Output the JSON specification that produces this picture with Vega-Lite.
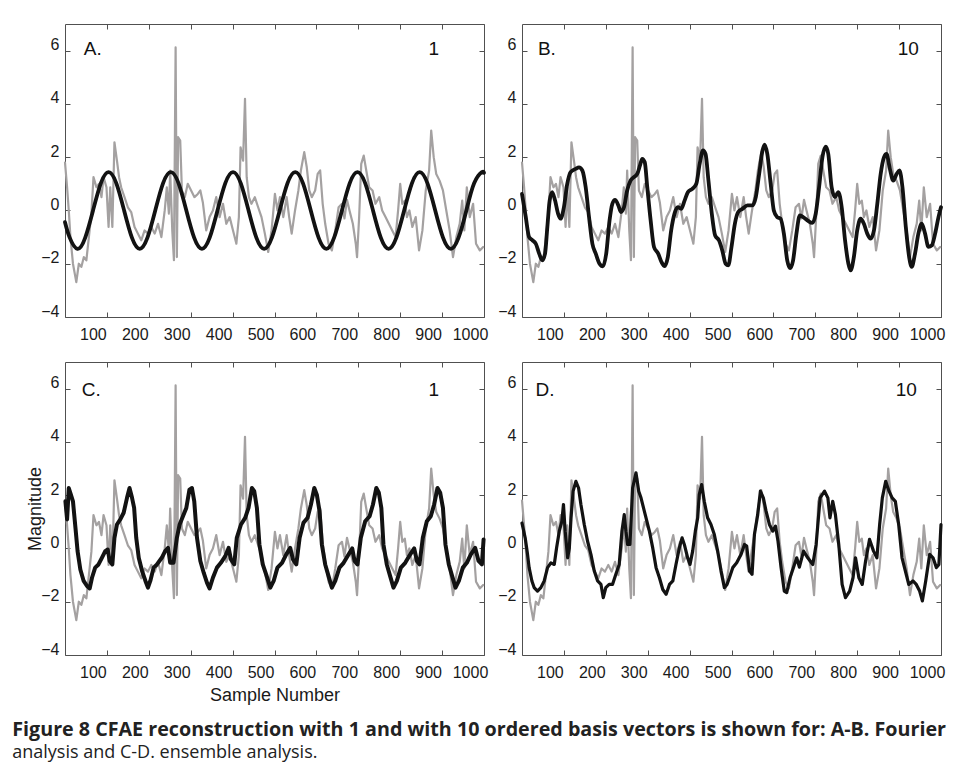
{
  "$schema": "https://vega.github.io/schema/vega-lite/v6.json",
  "background": "white",
  "padding": {"left": 12, "top": 23, "right": 5, "bottom": 5},
  "bounds": "flush",
  "columns": 2,
  "spacing": {"row": 45, "column": 38},
  "title": {
    "text": "Figure 8 CFAE reconstruction with 1 and with 10 ordered basis vectors is shown for: A-B. Fourier",
    "subtitle": "analysis and C-D. ensemble analysis.",
    "orient": "bottom",
    "anchor": "start",
    "font": "Open Sans",
    "fontSize": 19.7,
    "fontWeight": "bold",
    "color": "#222222",
    "subtitleFont": "Open Sans",
    "subtitleFontSize": 18,
    "subtitleColor": "#222222",
    "subtitlePadding": 5,
    "offset": 15,
    "dx": -14
  },
  "datasets": {
    "orig": [
      {"s":0,"v":1.8},{"s":5,"v":0.87},{"s":9,"v":0},{"s":13,"v":-1.0},{"s":19,"v":-2.0},{"s":27,"v":-2.69},{"s":33,"v":-2.0},{"s":39,"v":-2.12},{"s":45,"v":-1.75},{"s":51,"v":-1.87},{"s":57,"v":-1.0},{"s":63,"v":-0.12},{"s":68,"v":1.25},{"s":75,"v":0.87},{"s":81,"v":1.0},{"s":87,"v":0.5},{"s":92,"v":1.25},{"s":99,"v":0.87},{"s":104,"v":-0.62},{"s":108,"v":0.87},{"s":113,"v":-0.62},{"s":118,"v":2.56},{"s":124,"v":1.87},{"s":129,"v":1.25},{"s":134,"v":0.87},{"s":142,"v":0.5},{"s":150,"v":0.12},{"s":158,"v":-0.06},{"s":166,"v":-0.62},{"s":174,"v":-0.87},{"s":182,"v":-1.12},{"s":190,"v":-0.75},{"s":198,"v":-0.87},{"s":206,"v":-0.62},{"s":214,"v":-0.87},{"s":222,"v":-0.5},{"s":230,"v":-1.0},{"s":238,"v":0},{"s":243,"v":0.87},{"s":248,"v":-0.12},{"s":251,"v":1.5},{"s":256,"v":-0.75},{"s":260,"v":-1.87},{"s":264,"v":6.12},{"s":267,"v":-1.75},{"s":270,"v":2.75},{"s":275,"v":2.62},{"s":279,"v":0.75},{"s":286,"v":0.5},{"s":293,"v":1.0},{"s":301,"v":0.75},{"s":309,"v":0.5},{"s":317,"v":0.62},{"s":323,"v":0.75},{"s":329,"v":0.3},{"s":337,"v":-0.75},{"s":345,"v":-0.25},{"s":353,"v":0},{"s":361,"v":0.5},{"s":369,"v":-0.25},{"s":377,"v":0.25},{"s":385,"v":-0.5},{"s":393,"v":-0.25},{"s":401,"v":-0.75},{"s":409,"v":-1.25},{"s":415,"v":-0.25},{"s":419,"v":2.37},{"s":425,"v":1.87},{"s":429.6,"v":4.19},{"s":433.6,"v":1.25},{"s":439,"v":0.5},{"s":445,"v":0.25},{"s":453,"v":0.5},{"s":461,"v":0.12},{"s":469,"v":-0.25},{"s":477,"v":-0.87},{"s":485,"v":-1.56},{"s":493,"v":-0.75},{"s":501,"v":0.62},{"s":507,"v":0},{"s":513,"v":0.5},{"s":521,"v":-0.25},{"s":529,"v":0.5},{"s":535,"v":-0.25},{"s":541,"v":-0.87},{"s":549,"v":0},{"s":557,"v":0.75},{"s":563,"v":1.5},{"s":571,"v":2.19},{"s":577,"v":1.62},{"s":583,"v":0.75},{"s":589,"v":0.5},{"s":597,"v":0.75},{"s":603,"v":1.37},{"s":609,"v":1.5},{"s":615,"v":0.25},{"s":621,"v":-0.5},{"s":629,"v":-1.25},{"s":637,"v":-1.5},{"s":645,"v":-0.75},{"s":653,"v":0.12},{"s":661,"v":0.25},{"s":667,"v":-0.3},{"s":673,"v":0.4},{"s":679,"v":0},{"s":687,"v":-0.5},{"s":694,"v":-1.25},{"s":697,"v":-1.75},{"s":702,"v":-0.25},{"s":707,"v":1.75},{"s":713,"v":2.06},{"s":719,"v":1.5},{"s":726,"v":0.87},{"s":734,"v":0.75},{"s":741,"v":0.25},{"s":750,"v":0.5},{"s":757,"v":0},{"s":765,"v":-0.25},{"s":773,"v":-0.5},{"s":781,"v":-0.75},{"s":789,"v":-1.0},{"s":795,"v":0},{"s":800,"v":1.0},{"s":805,"v":0.25},{"s":811,"v":0.37},{"s":816,"v":-0.25},{"s":822,"v":0},{"s":829,"v":-0.62},{"s":837,"v":-0.25},{"s":845,"v":-1.5},{"s":853,"v":-0.75},{"s":861,"v":0.75},{"s":869,"v":1.5},{"s":874,"v":3.0},{"s":880,"v":2.0},{"s":886,"v":1.37},{"s":894,"v":1.12},{"s":902,"v":0.75},{"s":910,"v":0},{"s":918,"v":-0.75},{"s":926,"v":-1.75},{"s":934,"v":-1.0},{"s":942,"v":-0.5},{"s":948,"v":0.37},{"s":953,"v":-0.75},{"s":959,"v":0.87},{"s":966,"v":-0.25},{"s":974,"v":0.25},{"s":981,"v":-1.25},{"s":990,"v":-1.5},{"s":998,"v":-1.37}
    ],
    "fourier1": [
      {"s":0,"v":-0.44},{"s":11.2,"v":-1.02},{"s":29.8,"v":-1.44},{"s":48.3,"v":-1.02},{"s":66.9,"v":0},{"s":85.4,"v":1.02},{"s":104,"v":1.44},{"s":122.6,"v":1.02},{"s":141.1,"v":0},{"s":159.7,"v":-1.02},{"s":178.3,"v":-1.44},{"s":196.8,"v":-1.02},{"s":215.4,"v":0},{"s":233.9,"v":1.02},{"s":252.5,"v":1.44},{"s":271.1,"v":1.02},{"s":289.6,"v":0},{"s":308.2,"v":-1.02},{"s":326.8,"v":-1.44},{"s":345.3,"v":-1.02},{"s":363.9,"v":0},{"s":382.4,"v":1.02},{"s":401,"v":1.44},{"s":419.6,"v":1.02},{"s":438.1,"v":0},{"s":456.7,"v":-1.02},{"s":475.3,"v":-1.44},{"s":493.8,"v":-1.02},{"s":512.4,"v":0},{"s":530.9,"v":1.02},{"s":549.5,"v":1.44},{"s":568.1,"v":1.02},{"s":586.6,"v":0},{"s":605.2,"v":-1.02},{"s":623.8,"v":-1.44},{"s":642.3,"v":-1.02},{"s":660.9,"v":0},{"s":679.4,"v":1.02},{"s":698,"v":1.44},{"s":716.6,"v":1.02},{"s":735.1,"v":0},{"s":753.7,"v":-1.02},{"s":772.3,"v":-1.44},{"s":790.8,"v":-1.02},{"s":809.4,"v":0},{"s":827.9,"v":1.02},{"s":846.5,"v":1.44},{"s":865.1,"v":1.02},{"s":883.6,"v":0},{"s":902.2,"v":-1.02},{"s":920.8,"v":-1.44},{"s":939.3,"v":-1.02},{"s":957.9,"v":0},{"s":976.4,"v":1.02},{"s":995,"v":1.44},{"s":1000,"v":1.41}
    ],
    "fourier10": [
      {"s":0,"v":0.62},{"s":9,"v":-0.25},{"s":17,"v":-1.0},{"s":25,"v":-1.12},{"s":33,"v":-1.25},{"s":41,"v":-1.62},{"s":48.5,"v":-1.87},{"s":55,"v":-1.62},{"s":60.5,"v":-0.62},{"s":66,"v":0.37},{"s":72,"v":0.69},{"s":79,"v":0.37},{"s":86,"v":-0.12},{"s":92,"v":-0.31},{"s":100,"v":0.12},{"s":108,"v":1.0},{"s":116,"v":1.44},{"s":128,"v":1.56},{"s":136,"v":1.62},{"s":144,"v":1.5},{"s":152,"v":0.87},{"s":160,"v":-0.25},{"s":168,"v":-1.25},{"s":176,"v":-1.62},{"s":185,"v":-2.0},{"s":193,"v":-2.1},{"s":201,"v":-1.62},{"s":209,"v":-0.37},{"s":215.6,"v":0.25},{"s":222,"v":0.4},{"s":230,"v":0.19},{"s":236,"v":-0.06},{"s":243.4,"v":0.12},{"s":251,"v":0.75},{"s":259,"v":1.12},{"s":267,"v":1.25},{"s":275,"v":1.37},{"s":281.6,"v":1.69},{"s":287,"v":1.94},{"s":293,"v":1.81},{"s":299,"v":0.87},{"s":307,"v":-0.37},{"s":315,"v":-1.37},{"s":325,"v":-1.62},{"s":333,"v":-1.94},{"s":340.5,"v":-2.09},{"s":348,"v":-1.75},{"s":356,"v":-0.75},{"s":364,"v":-0.12},{"s":372,"v":0.12},{"s":380,"v":0.06},{"s":388,"v":0.37},{"s":396,"v":0.69},{"s":406.5,"v":0.81},{"s":416,"v":1.0},{"s":424,"v":1.75},{"s":432,"v":2.25},{"s":438,"v":2.12},{"s":445,"v":1.12},{"s":453,"v":-0.12},{"s":461,"v":-0.94},{"s":470,"v":-1.12},{"s":478,"v":-1.5},{"s":486,"v":-2.0},{"s":492.4,"v":-2.06},{"s":500,"v":-1.37},{"s":508,"v":-0.5},{"s":516,"v":-0.06},{"s":526,"v":0.06},{"s":538,"v":0.19},{"s":550,"v":0.19},{"s":558,"v":0.5},{"s":566,"v":1.37},{"s":574,"v":2.25},{"s":579,"v":2.47},{"s":585.5,"v":2.12},{"s":593.5,"v":1.0},{"s":601,"v":0},{"s":609,"v":-0.25},{"s":617,"v":-0.31},{"s":625,"v":-0.87},{"s":633,"v":-1.87},{"s":640,"v":-2.16},{"s":647,"v":-1.87},{"s":655,"v":-0.87},{"s":663,"v":-0.19},{"s":671,"v":-0.25},{"s":681,"v":-0.37},{"s":693,"v":-0.47},{"s":701,"v":-0.12},{"s":709,"v":0.87},{"s":717,"v":2.0},{"s":725,"v":2.4},{"s":731,"v":2.12},{"s":739,"v":0.87},{"s":747,"v":0.5},{"s":755,"v":0.69},{"s":763,"v":0.12},{"s":771,"v":-1.12},{"s":779,"v":-2.0},{"s":784.4,"v":-2.25},{"s":792,"v":-1.75},{"s":800,"v":-0.75},{"s":808,"v":-0.31},{"s":816,"v":-0.5},{"s":824,"v":-0.87},{"s":832,"v":-1.06},{"s":840,"v":-0.75},{"s":848,"v":0.25},{"s":856,"v":1.37},{"s":864,"v":2.0},{"s":870,"v":2.12},{"s":878,"v":1.56},{"s":886,"v":1.12},{"s":894,"v":1.37},{"s":901,"v":1.5},{"s":908,"v":0.87},{"s":916,"v":-0.62},{"s":924,"v":-1.75},{"s":930,"v":-2.12},{"s":938,"v":-1.62},{"s":946,"v":-0.87},{"s":954,"v":-0.5},{"s":962,"v":-0.87},{"s":970,"v":-1.37},{"s":978,"v":-1.31},{"s":986,"v":-0.87},{"s":994,"v":-0.25},{"s":1000,"v":0.12}
    ],
    "ensemble1": [
      {"s":1,"v":1.77},{"s":5,"v":1.09},{"s":9,"v":2.27},{"s":14,"v":2.02},{"s":19,"v":1.77},{"s":25,"v":0.77},{"s":30,"v":-0.1},{"s":36.6,"v":-0.79},{"s":44.5,"v":-1.22},{"s":52.5,"v":-1.41},{"s":59,"v":-1.5},{"s":64.4,"v":-1.1},{"s":72,"v":-0.72},{"s":80,"v":-0.6},{"s":88,"v":-0.35},{"s":96,"v":-0.1},{"s":102,"v":-0.04},{"s":106.6,"v":-0.47},{"s":113,"v":-0.6},{"s":118,"v":0.4},{"s":124,"v":0.9},{"s":132,"v":1.09},{"s":140,"v":1.34},{"s":148,"v":1.9},{"s":154,"v":2.27},{"s":160,"v":1.9},{"s":165,"v":1.52},{"s":170,"v":0.4},{"s":176,"v":-0.35},{"s":184,"v":-0.85},{"s":192,"v":-1.22},{"s":198,"v":-1.47},{"s":203.6,"v":-1.22},{"s":211.5,"v":-0.72},{"s":219.5,"v":-0.6},{"s":231,"v":-0.35},{"s":239,"v":-0.1},{"s":246,"v":0.02},{"s":251,"v":-0.54},{"s":259,"v":-0.54},{"s":267,"v":0.4},{"s":273.6,"v":0.9},{"s":281.5,"v":1.21},{"s":289.5,"v":1.52},{"s":297,"v":2.21},{"s":303,"v":2.27},{"s":308.5,"v":1.77},{"s":315,"v":0.4},{"s":323,"v":-0.47},{"s":331,"v":-0.91},{"s":339,"v":-1.29},{"s":345,"v":-1.5},{"s":353,"v":-1.1},{"s":362.6,"v":-0.72},{"s":372,"v":-0.54},{"s":382.5,"v":-0.29},{"s":390.5,"v":0.02},{"s":396,"v":-0.41},{"s":404,"v":-0.6},{"s":410,"v":0.4},{"s":420,"v":0.9},{"s":430,"v":1.15},{"s":438,"v":1.52},{"s":446,"v":2.27},{"s":451.7,"v":2.15},{"s":458,"v":1.52},{"s":464,"v":0.15},{"s":472,"v":-0.6},{"s":480,"v":-0.97},{"s":490,"v":-1.47},{"s":498,"v":-1.22},{"s":507,"v":-0.72},{"s":518,"v":-0.54},{"s":528,"v":-0.22},{"s":537.6,"v":0.02},{"s":544,"v":-0.41},{"s":552,"v":-0.6},{"s":560,"v":0.4},{"s":569,"v":0.96},{"s":579,"v":1.15},{"s":587,"v":1.65},{"s":595,"v":2.27},{"s":601,"v":2.02},{"s":607.5,"v":1.4},{"s":613,"v":0.15},{"s":621,"v":-0.6},{"s":629,"v":-1.04},{"s":637,"v":-1.47},{"s":645,"v":-1.22},{"s":655,"v":-0.72},{"s":665,"v":-0.54},{"s":677,"v":-0.22},{"s":685.5,"v":0},{"s":691,"v":-0.47},{"s":698,"v":-0.6},{"s":706,"v":0.4},{"s":716.5,"v":1.02},{"s":727,"v":1.21},{"s":735,"v":1.65},{"s":743,"v":2.27},{"s":749,"v":2.09},{"s":755,"v":1.52},{"s":760,"v":0.15},{"s":768,"v":-0.6},{"s":776,"v":-1.04},{"s":784,"v":-1.47},{"s":792,"v":-1.22},{"s":801.6,"v":-0.72},{"s":812,"v":-0.54},{"s":824,"v":-0.22},{"s":833.4,"v":0},{"s":840,"v":-0.47},{"s":846,"v":-0.6},{"s":854,"v":0.4},{"s":863.6,"v":1.02},{"s":873,"v":1.21},{"s":881,"v":1.65},{"s":889,"v":2.27},{"s":895.5,"v":2.09},{"s":902,"v":1.52},{"s":908,"v":0.15},{"s":916,"v":-0.6},{"s":924,"v":-1.04},{"s":932,"v":-1.47},{"s":940,"v":-1.22},{"s":949.5,"v":-0.72},{"s":959,"v":-0.54},{"s":968.6,"v":-0.22},{"s":979,"v":0.02},{"s":987,"v":-0.47},{"s":995,"v":-0.6},{"s":999,"v":0.34}
    ],
    "ensemble10": [
      {"s":0,"v":0.95},{"s":7.6,"v":0.4},{"s":13.2,"v":-0.22},{"s":17,"v":-0.72},{"s":23.6,"v":-1.22},{"s":29,"v":-1.47},{"s":37,"v":-1.6},{"s":45,"v":-1.47},{"s":53,"v":-1.22},{"s":61,"v":-0.72},{"s":69,"v":-0.54},{"s":77,"v":-0.6},{"s":82.5,"v":0.02},{"s":89,"v":0.65},{"s":95,"v":1.02},{"s":99,"v":1.65},{"s":103,"v":0.65},{"s":109,"v":-0.35},{"s":113,"v":0.02},{"s":117,"v":1.15},{"s":122,"v":2.15},{"s":128.6,"v":2.52},{"s":135,"v":2.27},{"s":140.6,"v":1.65},{"s":148.6,"v":0.9},{"s":156.5,"v":0.27},{"s":164.5,"v":-0.22},{"s":172.5,"v":-0.85},{"s":180.5,"v":-1.22},{"s":188.5,"v":-1.35},{"s":194,"v":-1.85},{"s":200,"v":-1.47},{"s":208,"v":-1.35},{"s":216,"v":-1.35},{"s":224,"v":-0.97},{"s":232,"v":-0.6},{"s":238.5,"v":0.65},{"s":244,"v":1.27},{"s":248,"v":0.65},{"s":252,"v":0.15},{"s":257.6,"v":0.15},{"s":264,"v":2.27},{"s":272,"v":2.84},{"s":278.6,"v":2.15},{"s":284,"v":1.9},{"s":290,"v":1.52},{"s":296,"v":1.15},{"s":304,"v":0.65},{"s":312,"v":0.02},{"s":320,"v":-0.72},{"s":328,"v":-1.1},{"s":336,"v":-1.54},{"s":344,"v":-1.72},{"s":352,"v":-1.35},{"s":360,"v":-1.22},{"s":367.5,"v":-0.6},{"s":375.5,"v":0.02},{"s":382,"v":0.4},{"s":387.4,"v":0.15},{"s":395.4,"v":-0.35},{"s":401,"v":-0.6},{"s":407.3,"v":-0.1},{"s":413.7,"v":0.65},{"s":419.3,"v":1.15},{"s":423,"v":2.02},{"s":428.8,"v":2.4},{"s":435,"v":1.77},{"s":443,"v":1.15},{"s":451,"v":0.9},{"s":459,"v":0.52},{"s":467,"v":-0.1},{"s":475,"v":-0.85},{"s":483,"v":-1.47},{"s":489.3,"v":-1.35},{"s":495,"v":-1.1},{"s":503,"v":-0.72},{"s":512.4,"v":-0.54},{"s":523,"v":-0.22},{"s":531,"v":0.15},{"s":536.3,"v":0.09},{"s":543,"v":-0.85},{"s":549,"v":-0.97},{"s":554.7,"v":0.52},{"s":562.6,"v":1.27},{"s":569,"v":2.15},{"s":576,"v":1.9},{"s":582.5,"v":1.4},{"s":590.4,"v":0.9},{"s":598.4,"v":0.65},{"s":605,"v":0.84},{"s":611,"v":0.27},{"s":618.3,"v":-0.72},{"s":626,"v":-1.6},{"s":631.8,"v":-1.66},{"s":639.7,"v":-1.1},{"s":647.7,"v":-0.72},{"s":655.6,"v":-0.35},{"s":662,"v":-0.7},{"s":672,"v":-0.1},{"s":682,"v":-0.35},{"s":694,"v":-0.6},{"s":702,"v":0.15},{"s":711.5,"v":1.9},{"s":722,"v":2.15},{"s":730,"v":1.9},{"s":735,"v":1.15},{"s":741.6,"v":1.77},{"s":748,"v":1.27},{"s":756,"v":0.15},{"s":764,"v":-1.35},{"s":772,"v":-1.85},{"s":782,"v":-1.6},{"s":790,"v":-1.1},{"s":796,"v":-0.35},{"s":804,"v":-1.1},{"s":812,"v":-1.35},{"s":820,"v":-0.47},{"s":829.5,"v":0.34},{"s":839,"v":-0.1},{"s":847,"v":-0.35},{"s":853.6,"v":0.9},{"s":860,"v":1.9},{"s":868,"v":2.52},{"s":876,"v":2.15},{"s":883.4,"v":1.9},{"s":891,"v":1.77},{"s":899,"v":0.9},{"s":907,"v":-0.35},{"s":915,"v":-0.85},{"s":923,"v":-1.35},{"s":933,"v":-1.22},{"s":941,"v":-1.35},{"s":949,"v":-1.6},{"s":955.5,"v":-1.97},{"s":963.5,"v":-1.22},{"s":973,"v":-0.22},{"s":981,"v":-0.35},{"s":989,"v":-0.72},{"s":995,"v":-0.6},{"s":1000,"v":0.9}
    ]
  },
  "concat": [
    {
      "width": 419, "height": 293,
      "layer": [
        {"data": {"name": "orig"}, "mark": {"type": "line", "color": "#a4a1a1", "strokeWidth": 2.2},
         "encoding": {
           "x": {"field": "s", "type": "quantitative", "scale": {"domain": [0, 1000], "nice": false, "zero": false}, "axis": {"orient": "bottom", "values": [100,200,300,400,500,600,700,800,900,1000], "format": "d", "title": null}},
           "y": {"field": "v", "type": "quantitative", "scale": {"domain": [-4, 7], "nice": false, "zero": false}, "axis": {"orient": "left", "values": [-4,-2,0,2,4,6], "title": null}}}},
        {"data": {"name": "fourier1"}, "mark": {"type": "line", "color": "#121212", "strokeWidth": 3.8, "interpolate": "natural"},
         "encoding": {
           "x": {"field": "s", "type": "quantitative", "axis": {"orient": "top", "labels": false, "values": [100,200,300,400,500,600,700,800,900,1000], "title": null}},
           "y": {"field": "v", "type": "quantitative", "axis": {"orient": "right", "labels": false, "values": [-4,-2,0,2,4,6], "title": null}}}},
        {"data": {"values": [{"label": "A."}]}, "mark": {"type": "text", "align": "left", "baseline": "middle", "font": "Liberation Sans", "fontSize": 19, "color": "#111111"},
         "encoding": {"x": {"datum": 45, "type": "quantitative", "axis": null}, "y": {"datum": 6.05, "type": "quantitative", "axis": null}, "text": {"field": "label"}}},
        {"data": {"values": [{"label": "1"}]}, "mark": {"type": "text", "align": "center", "baseline": "middle", "font": "Liberation Sans", "fontSize": 19, "color": "#111111"},
         "encoding": {"x": {"datum": 880, "type": "quantitative", "axis": null}, "y": {"datum": 6.05, "type": "quantitative", "axis": null}, "text": {"field": "label"}}}
      ]
    },
    {
      "width": 419, "height": 293,
      "layer": [
        {"data": {"name": "orig"}, "mark": {"type": "line", "color": "#a4a1a1", "strokeWidth": 2.2},
         "encoding": {
           "x": {"field": "s", "type": "quantitative", "scale": {"domain": [0, 1000], "nice": false, "zero": false}, "axis": {"orient": "bottom", "values": [100,200,300,400,500,600,700,800,900,1000], "format": "d", "title": null}},
           "y": {"field": "v", "type": "quantitative", "scale": {"domain": [-4, 7], "nice": false, "zero": false}, "axis": {"orient": "left", "values": [-4,-2,0,2,4,6], "title": null}}}},
        {"data": {"name": "fourier10"}, "mark": {"type": "line", "color": "#121212", "strokeWidth": 3.8, "interpolate": "monotone"},
         "encoding": {
           "x": {"field": "s", "type": "quantitative", "axis": {"orient": "top", "labels": false, "values": [100,200,300,400,500,600,700,800,900,1000], "title": null}},
           "y": {"field": "v", "type": "quantitative", "axis": {"orient": "right", "labels": false, "values": [-4,-2,0,2,4,6], "title": null}}}},
        {"data": {"values": [{"label": "B."}]}, "mark": {"type": "text", "align": "left", "baseline": "middle", "font": "Liberation Sans", "fontSize": 19, "color": "#111111"},
         "encoding": {"x": {"datum": 38, "type": "quantitative", "axis": null}, "y": {"datum": 6.05, "type": "quantitative", "axis": null}, "text": {"field": "label"}}},
        {"data": {"values": [{"label": "10"}]}, "mark": {"type": "text", "align": "center", "baseline": "middle", "font": "Liberation Sans", "fontSize": 19, "color": "#111111"},
         "encoding": {"x": {"datum": 922, "type": "quantitative", "axis": null}, "y": {"datum": 6.05, "type": "quantitative", "axis": null}, "text": {"field": "label"}}}
      ]
    },
    {
      "width": 419, "height": 293,
      "layer": [
        {"data": {"name": "orig"}, "mark": {"type": "line", "color": "#a4a1a1", "strokeWidth": 2.2},
         "encoding": {
           "x": {"field": "s", "type": "quantitative", "scale": {"domain": [0, 1000], "nice": false, "zero": false}, "axis": {"orient": "bottom", "values": [100,200,300,400,500,600,700,800,900,1000], "format": "d", "title": "Sample Number"}},
           "y": {"field": "v", "type": "quantitative", "scale": {"domain": [-4, 7], "nice": false, "zero": false}, "axis": {"orient": "left", "values": [-4,-2,0,2,4,6], "title": "Magnitude"}}}},
        {"data": {"name": "ensemble1"}, "mark": {"type": "line", "color": "#121212", "strokeWidth": 4},
         "encoding": {
           "x": {"field": "s", "type": "quantitative", "axis": {"orient": "top", "labels": false, "values": [100,200,300,400,500,600,700,800,900,1000], "title": null}},
           "y": {"field": "v", "type": "quantitative", "axis": {"orient": "right", "labels": false, "values": [-4,-2,0,2,4,6], "title": null}}}},
        {"data": {"values": [{"label": "C."}]}, "mark": {"type": "text", "align": "left", "baseline": "middle", "font": "Liberation Sans", "fontSize": 19, "color": "#111111"},
         "encoding": {"x": {"datum": 40, "type": "quantitative", "axis": null}, "y": {"datum": 5.95, "type": "quantitative", "axis": null}, "text": {"field": "label"}}},
        {"data": {"values": [{"label": "1"}]}, "mark": {"type": "text", "align": "center", "baseline": "middle", "font": "Liberation Sans", "fontSize": 19, "color": "#111111"},
         "encoding": {"x": {"datum": 880, "type": "quantitative", "axis": null}, "y": {"datum": 5.95, "type": "quantitative", "axis": null}, "text": {"field": "label"}}}
      ]
    },
    {
      "width": 419, "height": 293,
      "layer": [
        {"data": {"name": "orig"}, "mark": {"type": "line", "color": "#a4a1a1", "strokeWidth": 2.2},
         "encoding": {
           "x": {"field": "s", "type": "quantitative", "scale": {"domain": [0, 1000], "nice": false, "zero": false}, "axis": {"orient": "bottom", "values": [100,200,300,400,500,600,700,800,900,1000], "format": "d", "title": null}},
           "y": {"field": "v", "type": "quantitative", "scale": {"domain": [-4, 7], "nice": false, "zero": false}, "axis": {"orient": "left", "values": [-4,-2,0,2,4,6], "title": null}}}},
        {"data": {"name": "ensemble10"}, "mark": {"type": "line", "color": "#121212", "strokeWidth": 3.2},
         "encoding": {
           "x": {"field": "s", "type": "quantitative", "axis": {"orient": "top", "labels": false, "values": [100,200,300,400,500,600,700,800,900,1000], "title": null}},
           "y": {"field": "v", "type": "quantitative", "axis": {"orient": "right", "labels": false, "values": [-4,-2,0,2,4,6], "title": null}}}},
        {"data": {"values": [{"label": "D."}]}, "mark": {"type": "text", "align": "left", "baseline": "middle", "font": "Liberation Sans", "fontSize": 19, "color": "#111111"},
         "encoding": {"x": {"datum": 32, "type": "quantitative", "axis": null}, "y": {"datum": 5.95, "type": "quantitative", "axis": null}, "text": {"field": "label"}}},
        {"data": {"values": [{"label": "10"}]}, "mark": {"type": "text", "align": "center", "baseline": "middle", "font": "Liberation Sans", "fontSize": 19, "color": "#111111"},
         "encoding": {"x": {"datum": 917, "type": "quantitative", "axis": null}, "y": {"datum": 5.95, "type": "quantitative", "axis": null}, "text": {"field": "label"}}}
      ]
    }
  ],
  "config": {
    "view": {"stroke": "#505050", "strokeWidth": 1},
    "line": {"strokeJoin": "round", "strokeCap": "round"},
    "axis": {
      "domain": false,
      "grid": false,
      "tickSize": -5,
      "tickColor": "#505050",
      "tickWidth": 1,
      "labelFont": "Liberation Sans",
      "labelFontSize": 16,
      "labelColor": "#1a1a1a",
      "labelFlush": false,
      "labelOverlap": false,
      "titleFont": "Liberation Sans",
      "titleFontSize": 18,
      "titleFontWeight": "normal",
      "titleColor": "#1a1a1a"
    },
    "axisX": {"labelPadding": 14, "labelOffset": -14, "titlePadding": 6},
    "axisY": {"labelPadding": 11, "labelOffset": -6, "titlePadding": -4}
  }
}
